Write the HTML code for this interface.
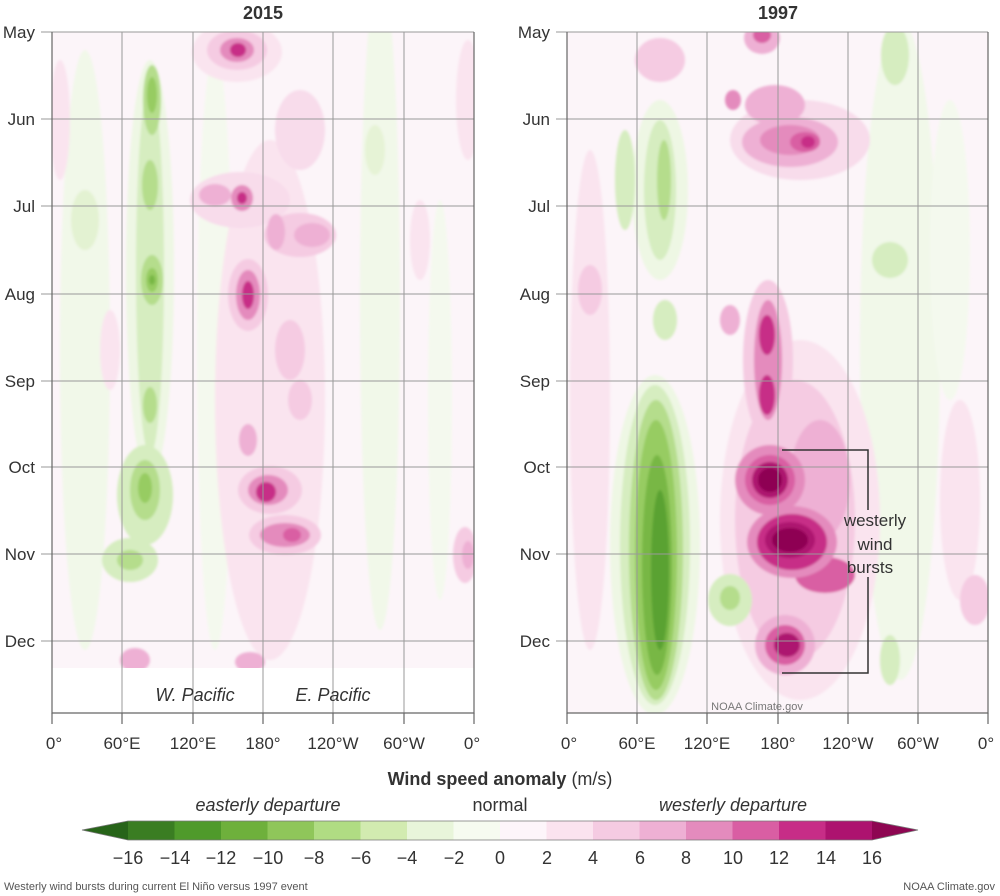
<!DOCTYPE html><html><head><meta charset="utf-8"><style>body{margin:0;background:#fff}svg{display:block}text{font-family:"Liberation Sans","DejaVu Sans",sans-serif;fill:#333}</style></head><body>
<svg width="1000" height="896" viewBox="0 0 1000 896">
<defs>
<clipPath id="cl"><rect x="52" y="32" width="422" height="636"/></clipPath>
<clipPath id="cr"><rect x="567" y="32" width="421" height="681"/></clipPath>
<filter id="b" x="-20%" y="-20%" width="140%" height="140%"><feGaussianBlur stdDeviation="1.2"/></filter>
</defs>
<text x="263" y="19" font-size="18" font-weight="bold" text-anchor="middle">2015</text>
<text x="778" y="19" font-size="18" font-weight="bold" text-anchor="middle">1997</text>
<!-- LEFT -->
<g clip-path="url(#cl)"><rect x="52" y="32" width="422" height="636" fill="#fcf5f9"/>
<g filter="url(#b)">
<ellipse cx="85" cy="350" rx="25" ry="300" fill="#f1f8e9"/>
<ellipse cx="380" cy="300" rx="20" ry="330" fill="#f1f8e9"/>
<ellipse cx="215" cy="350" rx="18" ry="300" fill="#f4f9ee"/>
<ellipse cx="440" cy="400" rx="12" ry="200" fill="#f4f9ee"/>
<ellipse cx="60" cy="120" rx="10" ry="60" fill="#fae4ef"/>
<ellipse cx="110" cy="350" rx="10" ry="40" fill="#fae4ef"/>
<ellipse cx="420" cy="240" rx="10" ry="40" fill="#fae4ef"/>
<ellipse cx="375" cy="150" rx="10" ry="25" fill="#e6f3d6"/>
<ellipse cx="270" cy="400" rx="55" ry="260" fill="#fae4ef"/>
<ellipse cx="300" cy="130" rx="25" ry="40" fill="#f8dceb"/>
<ellipse cx="468" cy="100" rx="12" ry="60" fill="#fae4ef"/>
<ellipse cx="85" cy="220" rx="14" ry="30" fill="#e3f2d2"/>
<ellipse cx="150" cy="270" rx="24" ry="210" fill="#eef7e4"/>
<ellipse cx="150" cy="270" rx="14" ry="185" fill="#d6edc0"/>
<ellipse cx="152" cy="100" rx="9" ry="35" fill="#b5dd8c"/><ellipse cx="152" cy="95" rx="5" ry="18" fill="#97cc62"/>
<ellipse cx="150" cy="185" rx="8" ry="25" fill="#b5dd8c"/>
<ellipse cx="152" cy="280" rx="11" ry="25" fill="#b5dd8c"/><ellipse cx="152" cy="280" rx="6" ry="12" fill="#97cc62"/><ellipse cx="152" cy="280" rx="3" ry="5" fill="#78b744"/>
<ellipse cx="150" cy="405" rx="7" ry="18" fill="#b5dd8c"/>
<ellipse cx="145" cy="495" rx="28" ry="50" fill="#d6edc0"/><ellipse cx="145" cy="490" rx="15" ry="30" fill="#b5dd8c"/><ellipse cx="145" cy="488" rx="7" ry="15" fill="#97cc62"/>
<ellipse cx="130" cy="560" rx="28" ry="22" fill="#d6edc0"/><ellipse cx="130" cy="560" rx="13" ry="10" fill="#b5dd8c"/>
<ellipse cx="237" cy="52" rx="45" ry="30" fill="#fae4ef"/><ellipse cx="237" cy="50" rx="30" ry="20" fill="#f5cbe2"/><ellipse cx="237" cy="50" rx="17" ry="12" fill="#e48bbd"/><ellipse cx="238" cy="50" rx="8" ry="7" fill="#c72d87"/>
<ellipse cx="240" cy="200" rx="50" ry="28" fill="#f8dceb"/><ellipse cx="215" cy="195" rx="16" ry="11" fill="#eeb0d4"/><ellipse cx="242" cy="198" rx="11" ry="13" fill="#e48bbd"/><ellipse cx="242" cy="198" rx="5" ry="6" fill="#c72d87"/>
<ellipse cx="300" cy="235" rx="36" ry="22" fill="#f5cbe2"/><ellipse cx="312" cy="235" rx="18" ry="12" fill="#eeb0d4"/><ellipse cx="276" cy="232" rx="9" ry="18" fill="#eeb0d4"/>
<ellipse cx="248" cy="295" rx="20" ry="36" fill="#f5cbe2"/><ellipse cx="248" cy="295" rx="12" ry="25" fill="#e48bbd"/><ellipse cx="248" cy="295" rx="6" ry="14" fill="#c72d87"/>
<ellipse cx="290" cy="350" rx="15" ry="30" fill="#f5cbe2"/><ellipse cx="300" cy="400" rx="12" ry="20" fill="#f5cbe2"/>
<ellipse cx="248" cy="440" rx="9" ry="16" fill="#eeb0d4"/>
<ellipse cx="270" cy="490" rx="32" ry="24" fill="#f5cbe2"/><ellipse cx="268" cy="490" rx="20" ry="15" fill="#e48bbd"/><ellipse cx="266" cy="492" rx="10" ry="10" fill="#c72d87"/>
<ellipse cx="285" cy="535" rx="36" ry="20" fill="#f5cbe2"/><ellipse cx="285" cy="535" rx="25" ry="12" fill="#e48bbd"/><ellipse cx="292" cy="535" rx="9" ry="7" fill="#d95ea3"/>
<ellipse cx="465" cy="555" rx="12" ry="28" fill="#f5cbe2"/><ellipse cx="468" cy="555" rx="6" ry="14" fill="#eeb0d4"/>
<ellipse cx="135" cy="660" rx="15" ry="12" fill="#eeb0d4"/><ellipse cx="250" cy="662" rx="15" ry="10" fill="#eeb0d4"/>
</g></g>
<g stroke="#999" stroke-width="1"><line x1="122" y1="32" x2="122" y2="713"/><line x1="193" y1="32" x2="193" y2="713"/><line x1="263" y1="32" x2="263" y2="713"/><line x1="333" y1="32" x2="333" y2="713"/><line x1="404" y1="32" x2="404" y2="713"/>
<line x1="41" y1="32" x2="474" y2="32"/><line x1="41" y1="119" x2="474" y2="119"/><line x1="41" y1="206" x2="474" y2="206"/><line x1="41" y1="294" x2="474" y2="294"/><line x1="41" y1="381" x2="474" y2="381"/><line x1="41" y1="467" x2="474" y2="467"/><line x1="41" y1="554" x2="474" y2="554"/><line x1="41" y1="641" x2="474" y2="641"/></g>
<g stroke="#666" stroke-width="1.2" fill="none"><path d="M52 32V713H474V32"/><path d="M52 713v11M122 713v11M193 713v11M263 713v11M333 713v11M404 713v11M474 713v11"/></g>
<g font-size="17" text-anchor="end"><text x="35" y="38">May</text><text x="35" y="125">Jun</text><text x="35" y="212">Jul</text><text x="35" y="300">Aug</text><text x="35" y="387">Sep</text><text x="35" y="473">Oct</text><text x="35" y="560">Nov</text><text x="35" y="647">Dec</text></g>
<g font-size="18" font-style="italic"><text x="195" y="701" text-anchor="middle">W. Pacific</text><text x="333" y="701" text-anchor="middle">E. Pacific</text></g>
<g font-size="17" text-anchor="middle"><text x="54" y="749">0°</text><text x="122" y="749">60°E</text><text x="193" y="749">120°E</text><text x="263" y="749">180°</text><text x="333" y="749">120°W</text><text x="404" y="749">60°W</text><text x="472" y="749">0°</text></g>
<!-- RIGHT -->
<g clip-path="url(#cr)"><rect x="567" y="32" width="421" height="681" fill="#fcf5f9"/>
<g filter="url(#b)">
<ellipse cx="900" cy="350" rx="40" ry="330" fill="#f1f8e9"/>
<ellipse cx="950" cy="250" rx="20" ry="150" fill="#f4f9ee"/>
<ellipse cx="590" cy="400" rx="20" ry="250" fill="#fae4ef"/>
<ellipse cx="960" cy="500" rx="20" ry="100" fill="#fae4ef"/>
<ellipse cx="800" cy="520" rx="80" ry="180" fill="#fae4ef"/>
<ellipse cx="795" cy="520" rx="60" ry="140" fill="#f5cbe2"/>
<ellipse cx="820" cy="480" rx="30" ry="60" fill="#eeb0d4"/>
<ellipse cx="655" cy="545" rx="45" ry="170" fill="#eef7e4"/>
<ellipse cx="655" cy="545" rx="35" ry="160" fill="#d6edc0"/>
<ellipse cx="656" cy="550" rx="27" ry="150" fill="#b5dd8c"/>
<ellipse cx="656" cy="555" rx="21" ry="135" fill="#97cc62"/>
<ellipse cx="657" cy="565" rx="15" ry="110" fill="#78b744"/>
<ellipse cx="660" cy="570" rx="9" ry="80" fill="#5aa231"/>
<ellipse cx="660" cy="190" rx="28" ry="90" fill="#eef7e4"/><ellipse cx="660" cy="190" rx="16" ry="70" fill="#d6edc0"/><ellipse cx="664" cy="180" rx="7" ry="40" fill="#b5dd8c"/>
<ellipse cx="625" cy="180" rx="10" ry="50" fill="#d6edc0"/>
<ellipse cx="665" cy="320" rx="12" ry="20" fill="#d6edc0"/>
<ellipse cx="730" cy="600" rx="22" ry="26" fill="#d6edc0"/><ellipse cx="730" cy="598" rx="10" ry="12" fill="#b5dd8c"/>
<ellipse cx="890" cy="260" rx="18" ry="18" fill="#d6edc0"/><ellipse cx="895" cy="55" rx="14" ry="30" fill="#d6edc0"/><ellipse cx="890" cy="660" rx="10" ry="25" fill="#d6edc0"/>
<ellipse cx="660" cy="60" rx="25" ry="22" fill="#f5cbe2"/>
<ellipse cx="762" cy="38" rx="18" ry="16" fill="#eeb0d4"/><ellipse cx="762" cy="35" rx="9" ry="8" fill="#d95ea3"/>
<ellipse cx="800" cy="140" rx="70" ry="40" fill="#f8dceb"/><ellipse cx="790" cy="142" rx="48" ry="25" fill="#eeb0d4"/><ellipse cx="790" cy="140" rx="30" ry="15" fill="#e48bbd"/><ellipse cx="805" cy="142" rx="15" ry="10" fill="#d95ea3"/><ellipse cx="808" cy="142" rx="7" ry="6" fill="#c72d87"/>
<ellipse cx="775" cy="105" rx="30" ry="20" fill="#eeb0d4"/><ellipse cx="733" cy="100" rx="8" ry="10" fill="#e48bbd"/>
<ellipse cx="768" cy="360" rx="25" ry="80" fill="#f5cbe2"/><ellipse cx="768" cy="360" rx="14" ry="60" fill="#e48bbd"/><ellipse cx="767" cy="335" rx="8" ry="20" fill="#c72d87"/><ellipse cx="767" cy="395" rx="8" ry="20" fill="#c72d87"/>
<ellipse cx="730" cy="320" rx="10" ry="15" fill="#eeb0d4"/>
<ellipse cx="770" cy="480" rx="35" ry="35" fill="#e48bbd"/><ellipse cx="770" cy="480" rx="25" ry="25" fill="#d95ea3"/><ellipse cx="770" cy="480" rx="18" ry="18" fill="#ad136f"/><ellipse cx="770" cy="480" rx="12" ry="12" fill="#8e0652"/>
<ellipse cx="825" cy="575" rx="30" ry="18" fill="#d95ea3"/>
<ellipse cx="792" cy="542" rx="45" ry="36" fill="#e48bbd"/><ellipse cx="792" cy="542" rx="35" ry="28" fill="#c72d87"/><ellipse cx="790" cy="540" rx="25" ry="18" fill="#ad136f"/><ellipse cx="790" cy="540" rx="18" ry="12" fill="#8e0652"/>
<ellipse cx="785" cy="645" rx="30" ry="30" fill="#eeb0d4"/><ellipse cx="785" cy="645" rx="20" ry="20" fill="#d95ea3"/><ellipse cx="787" cy="645" rx="13" ry="12" fill="#ad136f"/>
<ellipse cx="975" cy="600" rx="15" ry="25" fill="#f5cbe2"/><ellipse cx="590" cy="290" rx="12" ry="25" fill="#f5cbe2"/>
</g></g>
<g stroke="#999" stroke-width="1"><line x1="637" y1="32" x2="637" y2="713"/><line x1="707" y1="32" x2="707" y2="713"/><line x1="778" y1="32" x2="778" y2="713"/><line x1="848" y1="32" x2="848" y2="713"/><line x1="918" y1="32" x2="918" y2="713"/>
<line x1="556" y1="32" x2="988" y2="32"/><line x1="556" y1="119" x2="988" y2="119"/><line x1="556" y1="206" x2="988" y2="206"/><line x1="556" y1="294" x2="988" y2="294"/><line x1="556" y1="381" x2="988" y2="381"/><line x1="556" y1="467" x2="988" y2="467"/><line x1="556" y1="554" x2="988" y2="554"/><line x1="556" y1="641" x2="988" y2="641"/></g>
<g stroke="#666" stroke-width="1.2" fill="none"><path d="M567 32V713H988V32"/><path d="M567 713v11M637 713v11M707 713v11M778 713v11M848 713v11M918 713v11M988 713v11"/></g>
<path d="M782 450H868V510M868 577V673H782" stroke="#333" stroke-width="1.5" fill="none"/>
<g font-size="17" text-anchor="middle" style="fill:#111"><text x="875" y="526">westerly</text><text x="875" y="550">wind</text><text x="870" y="573">bursts</text></g>
<text x="757" y="710" font-size="11" text-anchor="middle" style="fill:#777">NOAA Climate.gov</text>
<g font-size="17" text-anchor="end"><text x="550" y="38">May</text><text x="550" y="125">Jun</text><text x="550" y="212">Jul</text><text x="550" y="300">Aug</text><text x="550" y="387">Sep</text><text x="550" y="473">Oct</text><text x="550" y="560">Nov</text><text x="550" y="647">Dec</text></g>
<g font-size="17" text-anchor="middle"><text x="569" y="749">0°</text><text x="637" y="749">60°E</text><text x="707" y="749">120°E</text><text x="778" y="749">180°</text><text x="848" y="749">120°W</text><text x="918" y="749">60°W</text><text x="986" y="749">0°</text></g>
<!-- LEGEND -->
<text x="500" y="785" font-size="18" text-anchor="middle"><tspan font-weight="bold">Wind speed anomaly</tspan> (m/s)</text>
<g font-size="18" text-anchor="middle"><text x="268" y="811" font-style="italic">easterly departure</text><text x="500" y="811">normal</text><text x="733" y="811" font-style="italic">westerly departure</text></g>
<g stroke="none">
<polygon points="82,830 128,821 128,840" fill="#276419"/>
<rect x="128" y="821" width="47" height="19" fill="#3a7d22"/><rect x="174.5" y="821" width="47" height="19" fill="#4f9a2b"/><rect x="221" y="821" width="47" height="19" fill="#6eb03c"/><rect x="267.5" y="821" width="47" height="19" fill="#8fc65a"/><rect x="314" y="821" width="47" height="19" fill="#b0dc83"/><rect x="360.5" y="821" width="47" height="19" fill="#d2ebb0"/><rect x="407" y="821" width="47" height="19" fill="#e8f5da"/><rect x="453.5" y="821" width="47" height="19" fill="#f6fbf0"/>
<rect x="500" y="821" width="47" height="19" fill="#fdf5fa"/><rect x="546.5" y="821" width="47" height="19" fill="#fbe3ef"/><rect x="593" y="821" width="47" height="19" fill="#f5cbe2"/><rect x="639.5" y="821" width="47" height="19" fill="#eeb0d4"/><rect x="686" y="821" width="47" height="19" fill="#e48bbd"/><rect x="732.5" y="821" width="47" height="19" fill="#d95ea3"/><rect x="779" y="821" width="47" height="19" fill="#c72d87"/><rect x="825.5" y="821" width="46.5" height="19" fill="#ad136f"/>
<polygon points="872,821 918,830 872,840" fill="#8e0652"/>
</g>
<path d="M82 830L128 821H872L918 830L872 840H128Z" fill="none" stroke="#777" stroke-width="0.8"/>
<g font-size="18" text-anchor="middle"><text x="128" y="864">−16</text><text x="175" y="864">−14</text><text x="221" y="864">−12</text><text x="268" y="864">−10</text><text x="314" y="864">−8</text><text x="361" y="864">−6</text><text x="407" y="864">−4</text><text x="454" y="864">−2</text><text x="500" y="864">0</text><text x="547" y="864">2</text><text x="593" y="864">4</text><text x="640" y="864">6</text><text x="686" y="864">8</text><text x="733" y="864">10</text><text x="779" y="864">12</text><text x="826" y="864">14</text><text x="872" y="864">16</text></g>
<text x="4" y="890" font-size="11" style="fill:#555">Westerly wind bursts during current El Niño versus 1997 event</text>
<text x="995" y="890" font-size="11" text-anchor="end" style="fill:#555">NOAA Climate.gov</text>
</svg></body></html>
